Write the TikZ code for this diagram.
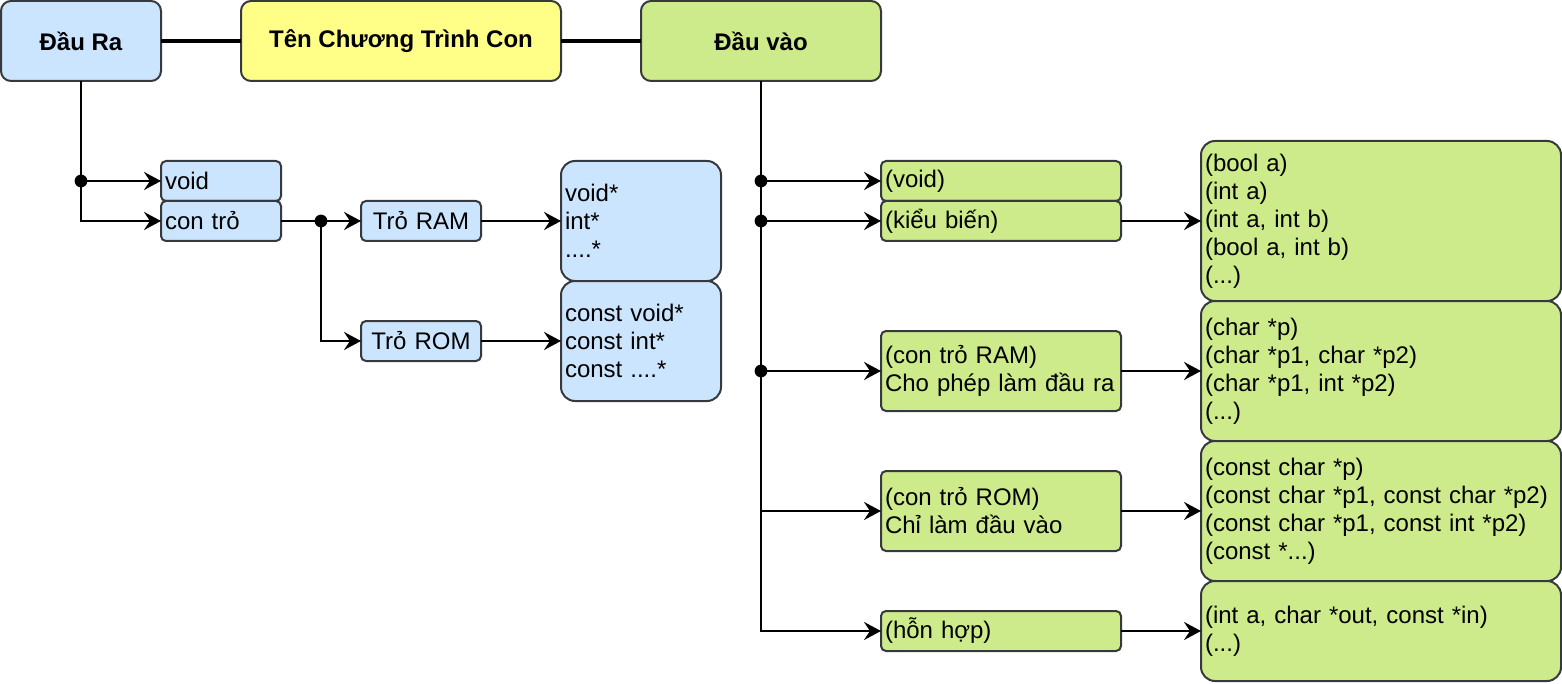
\documentclass[tikz,border=0pt]{standalone}
\usepackage{fontspec}
\setmainfont{Liberation Sans}
\usetikzlibrary{arrows.meta,positioning}
\definecolor{outblue}{HTML}{CCE5FF}
\definecolor{nameyellow}{HTML}{FFFF88}
\definecolor{ingreen}{HTML}{CDEB8B}
\definecolor{edgegray}{HTML}{36393D}

\begin{document}
\begin{tikzpicture}[x=0.5pt,y=-0.5pt,line width=1.1pt,font=\fontsize{12}{14}\selectfont]
	\tikzstyle{box}=[draw=edgegray,line width=1pt,anchor=north west,inner sep=0pt,outer sep=0pt]
	\tikzstyle{head}=[box,rounded corners=5pt,minimum height=40pt,font=\fontsize{12}{14}\selectfont\bfseries]
	\tikzstyle{item}=[box,rounded corners=2.5pt,minimum height=20pt,inner xsep=2pt,text width=56pt,align=left]
	\tikzstyle{wideitem}=[item,text width=116pt]
	\tikzstyle{list}=[box,rounded corners=7pt,inner xsep=2pt,text width=76pt,align=left]
	\tikzstyle{widelist}=[list,text width=176pt]
	\tikzstyle{link}=[-{Stealth[length=8.5pt,width=9pt,inset=3pt]}]
	\tikzstyle{joint}=[fill=black]
	\useasboundingbox (0,0) rectangle (1562,684);

	% top row
	\node[head,fill=outblue,minimum width=80pt] (out) at (1,1) {Đầu Ra};
	\node[head,fill=nameyellow,minimum width=160pt] (name) [right=40pt of out] {Tên Chương Trình Con};
	\node[head,fill=ingreen,minimum width=120pt] (in) [right=40pt of name] {Đầu vào};
	\draw[line width=2pt] (out) -- (name);
	\draw[line width=2pt] (name) -- (in);

	% output side
	\node[item,fill=outblue] (ovoid) at (161,161) {void};
	\node[item,fill=outblue] (optr)  at (161,201) {con trỏ};
	\node[item,fill=outblue,align=center] (ram) at (361,201) {Trỏ RAM};
	\node[item,fill=outblue,align=center] (rom) at (361,321) {Trỏ ROM};
	\node[list,fill=outblue,minimum height=60pt] (ramlist) at (561,161) {void*\\int*\\....*};
	\node[list,fill=outblue,minimum height=60pt] (romlist) at (561,281) {const void*\\const int*\\const ....*};

	\coordinate (jout) at (out.south |- ovoid.west);
	\coordinate (jptr) at (321,221);
	\draw[link] (out.south) |- (optr.west);
	\draw[link] (jout) -- (ovoid.west);
	\draw[link] (optr.east) -- (ram.west);
	\draw[link] (jptr) |- (rom.west);
	\draw[link] (ram.east) -- (ramlist.west);
	\draw[link] (rom.east) -- (romlist.west);
	\fill[joint] (jout) circle[radius=3.2pt];
	\fill[joint] (jptr) circle[radius=3.2pt];

	% input side
	\node[wideitem,fill=ingreen] (ivoid) at (881,161) {(void)};
	\node[wideitem,fill=ingreen] (itype) at (881,201) {(kiểu biến)};
	\node[wideitem,fill=ingreen,minimum height=40pt] (iram) at (881,331) {(con trỏ RAM)\\Cho phép làm đầu ra};
	\node[wideitem,fill=ingreen,minimum height=40pt] (irom) at (881,471) {(con trỏ ROM)\\Chỉ làm đầu vào};
	\node[wideitem,fill=ingreen] (imix) at (881,611) {(hỗn hợp)};
	\node[widelist,fill=ingreen,minimum height=80pt] (typelist) at (1201,141) {(bool a)\\(int a)\\(int a, int b)\\(bool a, int b)\\(...)};
	\node[widelist,fill=ingreen,minimum height=70pt] (iramlist) at (1201,301) {(char *p)\\(char *p1, char *p2)\\(char *p1, int *p2)\\(...)};
	\node[widelist,fill=ingreen,minimum height=70pt] (iromlist) at (1201,441) {(const char *p)\\(const char *p1, const char *p2)\\(const char *p1, const int *p2)\\(const *...)};
	\node[widelist,fill=ingreen,minimum height=50pt] (mixlist) at (1201,581) {(int a, char *out, const *in)\\(...)};

	\coordinate (jvoid) at (in.south |- ivoid.west);
	\coordinate (jtype) at (in.south |- itype.west);
	\coordinate (jram)  at (in.south |- iram.west);
	\coordinate (jrom)  at (in.south |- irom.west);
	\draw[link] (in.south) |- (imix.west);
	\draw[link] (jvoid) -- (ivoid.west);
	\draw[link] (jtype) -- (itype.west);
	\draw[link] (jram) -- (iram.west);
	\draw[link] (jrom) -- (irom.west);
	\draw[link] (itype.east) -- (typelist.west);
	\draw[link] (iram.east) -- (iramlist.west);
	\draw[link] (irom.east) -- (iromlist.west);
	\draw[link] (imix.east) -- (mixlist.west);
	\fill[joint] (jvoid) circle[radius=3.2pt];
	\fill[joint] (jtype) circle[radius=3.2pt];
	\fill[joint] (jram) circle[radius=3.2pt];
\end{tikzpicture}
\end{document}
